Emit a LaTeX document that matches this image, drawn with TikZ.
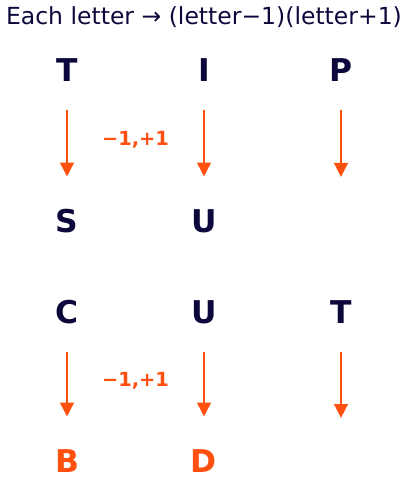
\documentclass[tikz,border=0pt]{standalone}
\usepackage{fontspec}
\setmainfont{DejaVu Sans}
\usetikzlibrary{arrows.meta}
\definecolor{navy}{RGB}{12,8,60}
\definecolor{orng}{RGB}{255,80,16}
\begin{document}
\begin{tikzpicture}[x=1bp,y=-1bp,
  letter/.style={font=\fontsize{31.5}{32}\bfseries\selectfont, text=navy, inner sep=0pt, text height=23bp, text depth=0pt, anchor=south},
  resletter/.style={letter, text=orng},
  stepbox/.style={font=\fontsize{19.5}{20}\bfseries\selectfont, text=orng, inner sep=0pt},
  conn/.style={draw=orng, line width=2.7bp, -{Triangle[length=14bp,width=13.5bp]}, shorten <=28bp, shorten >=33bp}]
\useasboundingbox (0,0) rectangle (408,479);
\node[font=\fontsize{23.6}{24}\selectfont, text=navy, anchor=base, inner sep=0pt] (title) at (204,25) {Each letter → (letter−1)(letter+1)};
% row 1
\node[letter] (T1) at (67,82) {T};
\node[letter] (I1) at (204,82) {I};
\node[letter] (P1) at (341,82) {P};
\node[letter] (S1) at (67,233) {S};
\node[letter] (U1) at (204,233) {U};
\coordinate (P2) at (341,210);
\draw[conn] (T1) -- (S1);
\draw[conn] (I1) -- (U1);
\draw[conn] (P1.south) -- (P2);
\node[stepbox] (lab1) at (135.5,140) {−1,+1};
% row 2
\node[letter] (C1) at (67,324) {C};
\node[letter] (U2) at (204,324) {U};
\node[letter] (T2) at (341,324) {T};
\node[resletter] (B1) at (67,473) {B};
\node[resletter] (D1) at (204,473) {D};
\coordinate (T3) at (341,451);
\draw[conn] (C1) -- (B1);
\draw[conn] (U2) -- (D1);
\draw[conn] (T2.south) -- (T3);
\node[stepbox] (lab2) at (135.5,381) {−1,+1};
\end{tikzpicture}
\end{document}
